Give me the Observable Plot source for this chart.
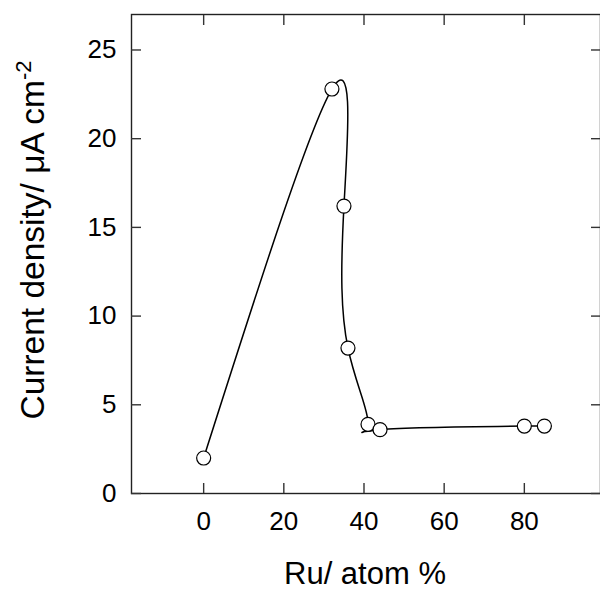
<!DOCTYPE html>
<html><head><meta charset="utf-8">
<script src="https://cdn.jsdelivr.net/npm/d3@7"></script>
<script src="https://cdn.jsdelivr.net/npm/@observablehq/plot@0.6"></script>
<style>body{margin:0;background:#fff} #chart{width:600px;height:592px}</style>
</head><body><div id="chart"></div>
<script>
const ruAtomPct = [0, 32, 35, 36, 41, 44, 80, 85];
const currentDensity = [2.0, 22.8, 16.2, 8.2, 3.9, 3.6, 3.8, 3.8];
const xTicks = [0, 20, 40, 60, 80];
const yTicks = [0, 5, 10, 15, 20, 25];
const xTitle = "Ru/ atom %";
const yTitleMain = "Current density/ μA cm";
const yTitleSup = "-2";

const data = ruAtomPct.map((x, i) => ({x, y: currentDensity[i]}));
const font = "'Liberation Sans', Arial, sans-serif";

const plot = Plot.plot({
  width: 600, height: 592,
  marginLeft: 131, marginTop: 14, marginRight: 0, marginBottom: 99,
  style: {fontFamily: font, fontSize: "26px", color: "#000", background: "#fff", overflow: "visible"},
  x: {domain: [-18, 99], label: null},
  y: {domain: [0, 27], label: null},
  marks: [
    Plot.frame({stroke: "#222", strokeWidth: 1.4}),
    Plot.axisX(xTicks, {anchor: "bottom", tickSize: -10, tickPadding: 28, label: null, stroke: "#333", strokeWidth: 1.4, fontSize: 26}),
    Plot.axisX(xTicks, {anchor: "top", tickSize: -10, tickFormat: () => "", label: null, stroke: "#333", strokeWidth: 1.4}),
    Plot.axisY(yTicks, {anchor: "left", tickSize: -10, tickPadding: 25, label: null, stroke: "#333", strokeWidth: 1.4, fontSize: 26}),
    Plot.axisY(yTicks, {anchor: "right", tickSize: -10, tickFormat: () => "", label: null, stroke: "#333", strokeWidth: 1.4}),
    Plot.line(data, {x: "x", y: "y", curve: "natural", stroke: "#000", strokeWidth: 1.5}),
    Plot.dot(data, {x: "x", y: "y", r: 7, fill: "#fff", stroke: "#000", strokeWidth: 1.2})
  ]
});

const svg = d3.select(plot);
svg.append("text")
  .attr("x", 365).attr("y", 584)
  .attr("text-anchor", "middle")
  .style("font-family", font).style("font-size", "31px").attr("fill", "#000")
  .text(xTitle);
const yt = svg.append("text")
  .attr("transform", "translate(44,240) rotate(-90)")
  .attr("text-anchor", "middle")
  .style("font-family", font).style("font-size", "33.5px").attr("fill", "#000");
yt.append("tspan").text(yTitleMain);
yt.append("tspan").attr("dy", -13).style("font-size", "22px").text(yTitleSup);

document.getElementById("chart").appendChild(plot);
</script>
</body></html>
